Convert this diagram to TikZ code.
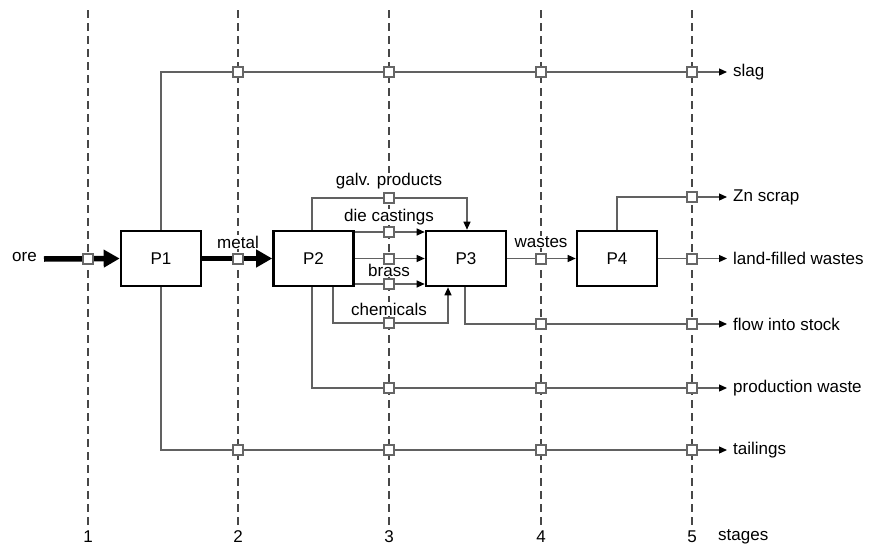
\documentclass[tikz,border=0pt]{standalone}
\usepackage{fontspec}
\setmainfont{Liberation Sans}
\usetikzlibrary{arrows.meta,calc}
\begin{document}
\begin{tikzpicture}[x=1pt,y=-1pt,
  every node/.style={font=\fontsize{17}{20}\selectfont},
  stageline/.style={draw=black!72, line width=1.5pt, dash pattern=on 8pt off 5pt},
  proc/.style={draw=black, line width=2.6pt, minimum width=80pt, minimum height=55pt, inner sep=0pt, fill=white},
  flow/.style={draw=black!62, line width=1.2pt},
  flowarrow/.style={flow, -{Triangle[length=8pt,width=7pt,color=black]}},
  bigarrow/.style={draw=black, line width=5.5pt, -{Triangle[length=16pt,width=17pt]}},
  sq/.style={draw=black!60, fill=white, line width=1.1pt, minimum size=10pt, inner sep=0pt},
  lab/.style={inner sep=0.5pt, fill=white},
  outlab/.style={anchor=west, inner sep=0pt}
]
\useasboundingbox (0,0) rectangle (878,546);

% stage lines
\foreach \i/\x in {1/88,2/238,3/389,4/541,5/692}{
  \coordinate (st\i) at (\x,10);
  \coordinate (sb\i) at (\x,525);
  \draw[stageline] (st\i) -- (sb\i);
  \node[inner sep=0pt] (stagelab\i) at (\x,537) {\i};
}
\node[anchor=west, inner sep=0pt] (stages) at (718,537) {stages};

% processes
\node[proc] (P1) at (161,258.5) {P1};
\node[proc] (P2) at (313.5,258.5) {P2};
\node[proc] (P3) at (466,258.5) {P3};
\node[proc] (P4) at (617,258.5) {P4};

% coordinates
\coordinate (orestart) at (44,259);
\coordinate (slagend) at (727,72);
\coordinate (tailend) at (727,450);
\coordinate (galvL) at (312,198);
\coordinate (galvR) at (467,198);
\coordinate (dcy) at (0,232);
\coordinate (bry) at (0,284);
\coordinate (chemL) at (333,323);
\coordinate (chemR) at (448,323);
\coordinate (pwL) at (312,388);
\coordinate (pwend) at (727,388);
\coordinate (fsL) at (465,324);
\coordinate (fsend) at (727,324);
\coordinate (znend) at (727,197);
\coordinate (lfend) at (727,258.5);

% thick flows
\draw[bigarrow] (orestart) -- (P1.west);
\draw[bigarrow] (P1.east) -- (P2.west);

% thin flows
\draw[flowarrow] (P1.north) |- (slagend);
\draw[flowarrow] (P1.south) |- (tailend);
\draw[flowarrow] (P2.north -| galvL) -- (galvL) -- (galvR) -- (P3.north -| galvR);
\draw[flowarrow] (P2.east |- dcy) -- (P3.west |- dcy);
\draw[flowarrow] (P2) -- (P3);
\draw[flowarrow] (P2.east |- bry) -- (P3.west |- bry);
\draw[flowarrow] (P2.south -| chemL) -- (chemL) -- (chemR) -- (P3.south -| chemR);
\draw[flowarrow] (P2.south -| pwL) |- (pwend);
\draw[flowarrow] (P3.south -| fsL) |- (fsend);
\draw[flowarrow] (P3) -- (P4);
\draw[flowarrow] (P4.north) |- (znend);
\draw[flowarrow] (P4.east) -- (lfend);

% inner labels
\node[anchor=east, inner sep=0pt] (ore) at (37,257) {ore};
\node[lab] (metal) at (238,242) {metal};
\node[lab] (galv) at (389,181) {galv. products};
\node[lab] (die) at (389,217) {die castings};
\node[lab] (brass) at (389,270) {brass};
\node[lab] (chem) at (389,309) {chemicals};
\node[lab] (wastes) at (541,242) {wastes};

% output labels
\node[outlab] (slag) at (733,72) {slag};
\node[outlab] (zn) at (733,197) {Zn scrap};
\node[outlab] (lf) at (733,258.5) {land-filled wastes};
\node[outlab] (fs) at (733,324) {flow into stock};
\node[outlab] (pw) at (733,388) {production waste};
\node[outlab] (tail) at (733,450) {tailings};

% squares
\foreach \n/\x/\y in {a/88/259, b/238/72, c/389/72, d/541/72, e/692/72,
  f/389/198, g/692/197, h/389/232, i/238/259, j/389/259, k/541/259, l/692/259,
  m/389/284, n/389/323, o/541/324, p/692/324, q/389/388, r/541/388, s/692/388,
  t/238/450, u/389/450, v/541/450, w/692/450}{
  \node[sq] (sq\n) at (\x,\y) {};
}
\end{tikzpicture}
\end{document}
